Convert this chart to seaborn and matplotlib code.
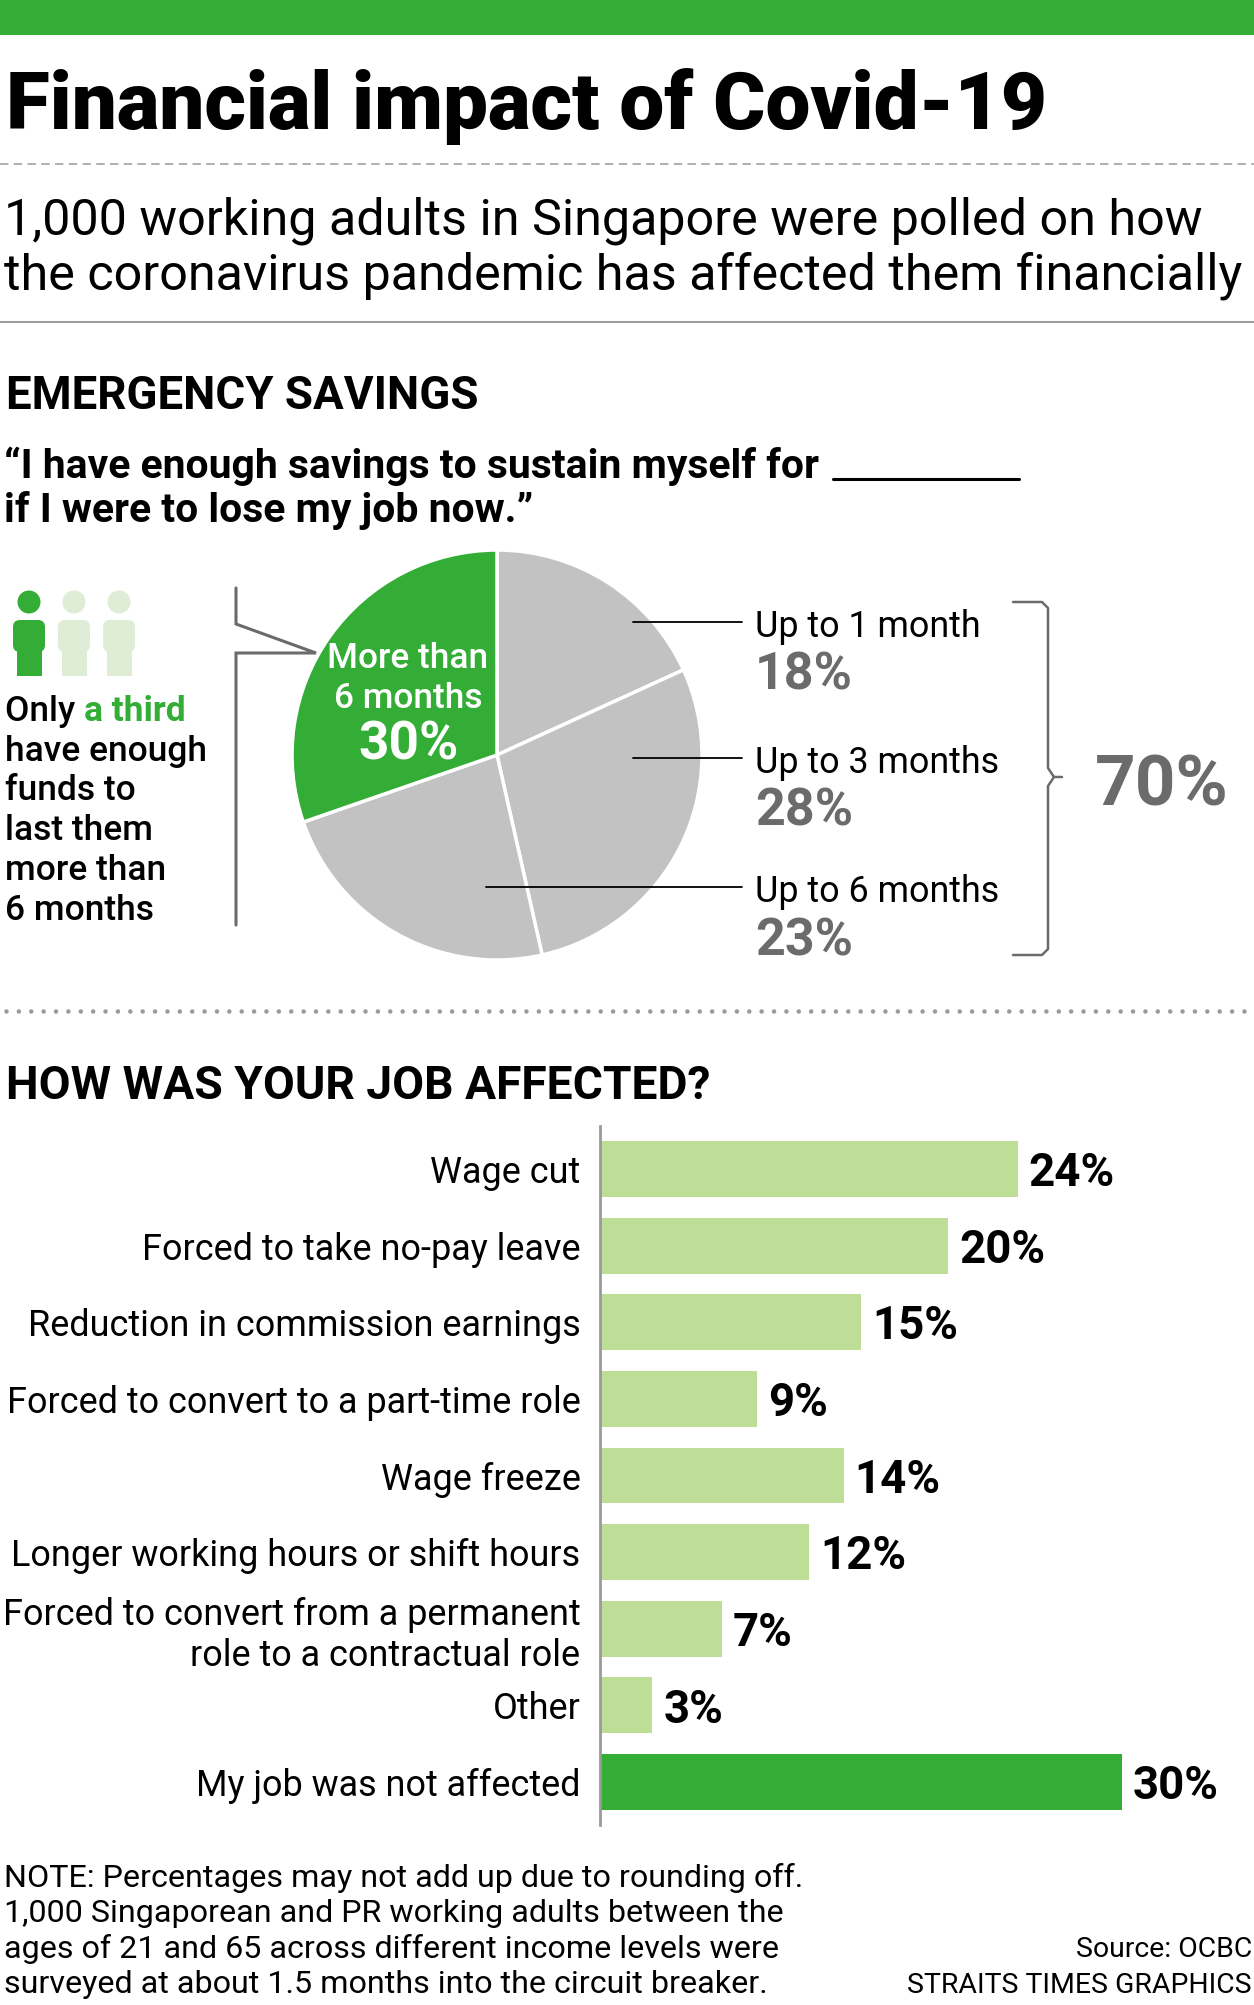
import numpy as np
import pandas as pd
import matplotlib
matplotlib.use("Agg")
import matplotlib.pyplot as plt
import seaborn as sns
from matplotlib.patches import Rectangle, Circle, FancyBboxPatch

# colours
GREEN = "#33ad36"
LIGHT_GREEN = "#bedd96"
GREY = "#c2c2c2"
DARK_GREY = "#6b6b6b"
ICON_PALE = "#e0edd6"
RULE = "#9a9a9a"

# savings pie (clockwise from 12 o'clock)
savings_labels = ["Up to 1 month", "Up to 3 months", "Up to 6 months", "More than\n6 months"]
savings_pct = [18, 28, 23, 30]
savings_total = "70%"

# job bars
job_labels = [
    "Wage cut",
    "Forced to take no-pay leave",
    "Reduction in commission earnings",
    "Forced to convert to a part-time role",
    "Wage freeze",
    "Longer working hours or shift hours",
    "Forced to convert from a permanent\nrole to a contractual role",
    "Other",
    "My job was not affected",
]
job_pct = [24, 20, 15, 9, 14, 12, 7, 3, 30]

note_lines = [
    "NOTE: Percentages may not add up due to rounding off.",
    "1,000 Singaporean and PR working adults between the",
    "ages of 21 and 65 across different income levels were",
    "surveyed at about 1.5 months into the circuit breaker.",
]

W, H = 1254, 2005
sns.set_theme(style="white")
plt.rcParams["font.family"] = ["Roboto", "DejaVu Sans"]

fig = plt.figure(figsize=(W / 100, H / 100), dpi=100)
fig.patch.set_facecolor("white")
renderer = fig.canvas.get_renderer()

# background axes in pixel units, y pointing down
bg = fig.add_axes([0, 0, 1, 1], zorder=0)
bg.set_xlim(0, W)
bg.set_ylim(H, 0)
bg.axis("off")


def txt(x, y, s, size, width=None, **kw):
    t = bg.text(x, y, s, fontsize=size, va="baseline", **kw)
    if width:
        w = t.get_window_extent(renderer).width
        t.set_fontsize(size * width / w)
    return t


def fit_size(s, size, width, **kw):
    t = bg.text(0, 0, s, fontsize=size, **kw)
    w = t.get_window_extent(renderer).width
    t.remove()
    return size * width / w


# header
bg.add_patch(Rectangle((0, 0), W, 35, color=GREEN, lw=0))
txt(6, 129, "Financial impact of Covid-19", 58, width=1040, fontweight="heavy", color="black")
bg.plot([0, W], [164, 164], color=RULE, lw=1.1, ls=(0, (5.5, 3.5)))
sub_size = fit_size("the coronavirus pandemic has affected them financially", 34, 1240)
txt(4, 234, "1,000 working adults in Singapore were polled on how", sub_size, color="black")
txt(4, 289, "the coronavirus pandemic has affected them financially", sub_size, color="black")
bg.plot([0, W], [322, 322], color=RULE, lw=1.4)

# emergency savings section
txt(6, 409, "EMERGENCY SAVINGS", 30, width=471, fontweight="bold", color="black")
q_size = fit_size("\u201cI have enough savings to sustain myself for", 24, 816, fontweight="bold")
txt(4, 478, "\u201cI have enough savings to sustain myself for", q_size, fontweight="bold", color="black")
bg.plot([833, 1019], [479, 479], color="black", lw=2.2)
txt(4, 522, "if I were to lose my job now.\u201d", q_size, fontweight="bold", color="black")

# people icons
for i, cx in enumerate([29, 74, 119]):
    col = GREEN if i == 0 else ICON_PALE
    bg.add_patch(Circle((cx, 602), 11.5, color=col, lw=0))
    bg.add_patch(FancyBboxPatch((cx - 13, 623), 26, 26, boxstyle="round,pad=3,rounding_size=7",
                                color=col, lw=0))
    bg.add_patch(Rectangle((cx - 12.5, 645), 25, 31, color=col, lw=0))

left_size = fit_size("have enough", 22, 202, fontweight="medium")
t_only = txt(5, 721, "Only ", left_size, fontweight="medium", color="black")
w_only = t_only.get_window_extent(renderer).width
txt(5 + w_only, 721, "a third", left_size, fontweight="bold", color=GREEN)
for i, line in enumerate(["have enough", "funds to", "last them", "more than", "6 months"]):
    txt(5, 721 + 39.7 * (i + 1), line, left_size, fontweight="medium", color="black")

# pointer bracket on the left of the pie
bg.plot([236, 236, 316, 236, 236], [588, 624, 653, 653, 925], color=DARK_GREY, lw=2.2,
        solid_joinstyle="miter")

# pie
cx, cy, r = 497, 755, 206
ax_pie = fig.add_axes([(cx - r) / W, 1 - (cy + r) / H, 2 * r / W, 2 * r / H], zorder=2)
ax_pie.pie(savings_pct, startangle=90, counterclock=False,
           colors=[GREY, GREY, GREY, GREEN],
           wedgeprops=dict(edgecolor="white", linewidth=2.5))
ax_pie.set_xlim(-1.005, 1.005)
ax_pie.set_ylim(-1.005, 1.005)
ax_pie.set_aspect("equal")
ax_pie.axis("off")

# labels inside the green slice (on a top overlay)
top = fig.add_axes([0, 0, 1, 1], zorder=3)
top.set_xlim(0, W)
top.set_ylim(H, 0)
top.axis("off")
in_size = fit_size("More than", 22, 161, fontweight="medium")
top.text(408, 668, "More than", fontsize=in_size, fontweight="medium", color="white", ha="center", va="baseline")
top.text(408, 708, "6 months", fontsize=in_size, fontweight="medium", color="white", ha="center", va="baseline")
pct_in = fit_size("30%", 30, 100, fontweight="bold")
top.text(408, 760, f"{savings_pct[3]}%", fontsize=pct_in, fontweight="bold", color="white",
         ha="center", va="baseline")

# leader lines and outside labels
for x0, y0 in [(633, 622), (633, 758), (486, 887)]:
    top.plot([x0, 742], [y0, y0], color="black", lw=1.3)
lab_size = fit_size("Up to 3 months", 22, 244)
big_size = fit_size("28%", 30, 98, fontweight="bold")
for lab, pct, base in zip(savings_labels[:3], savings_pct[:3], [637, 773, 902]):
    txt(755, base, lab, lab_size, color="black")
    txt(755, base + 53, f"{pct}%", big_size, fontweight="bold", color=DARK_GREY)

# right brace for the 70%
bg.plot([1013, 1042, 1048, 1048, 1054, 1062], [602, 602, 608, 768, 777, 777],
        color=DARK_GREY, lw=1.8)
bg.plot([1054, 1048, 1048, 1042, 1013], [777, 786, 949, 955, 955], color=DARK_GREY, lw=1.8)
txt(1095, 805, savings_total, 44, width=134, fontweight="bold", color=DARK_GREY)

# dotted divider
bg.plot([6, W], [1011, 1011], color=RULE, lw=3.3, ls=(0, (0.001, 2.7)), dash_capstyle="round")

# job section
txt(6, 1099, "HOW WAS YOUR JOB AFFECTED?", 30, width=705, fontweight="bold", color="black")

df = pd.DataFrame({"issue": job_labels, "pct": job_pct})
palette = [LIGHT_GREEN] * (len(job_labels) - 1) + [GREEN]
ax_bar = fig.add_axes([600 / W, 1 - 1825 / H, (W - 600) / W, (1825 - 1126) / H], zorder=2)
sns.barplot(data=df, y="issue", x="pct", hue="issue", palette=palette, legend=False,
            ax=ax_bar, width=0.73, saturation=1, linewidth=0)
ax_bar.set_xlim(0, (W - 600) / 17.4)
ax_bar.set_ylim(8.56, -0.56)
ax_bar.set_facecolor("none")
for s in ["top", "right", "bottom"]:
    ax_bar.spines[s].set_visible(False)
ax_bar.spines["left"].set_color(RULE)
ax_bar.spines["left"].set_linewidth(2)
ax_bar.set_xticks([])
ax_bar.set_xlabel("")
ax_bar.set_ylabel("")
tick_size = fit_size("Forced to convert to a part-time role", 22, 573)
ax_bar.tick_params(axis="y", length=0, pad=14, labelsize=tick_size, labelcolor="black")
val_size = fit_size("24%", 24, 86, fontweight="bold")
for cont in ax_bar.containers:
    anns = ax_bar.bar_label(cont, fmt="%d%%", padding=8, fontsize=val_size,
                            fontweight="bold", color="black")
    for a in anns:
        a.xyann = (8, -3)

# footnote
note_size = fit_size(note_lines[0], 18, 799)
for i, line in enumerate(note_lines):
    txt(4, 1887 + 35.3 * i, line, note_size, color="black")
src_size = fit_size("STRAITS TIMES GRAPHICS", 18, 345)
txt(1252, 1957, "Source: OCBC", src_size, color="black", ha="right")
txt(1252, 1993, "STRAITS TIMES GRAPHICS", src_size, color="black", ha="right")

fig.savefig("out.png", dpi=100, facecolor="white")
